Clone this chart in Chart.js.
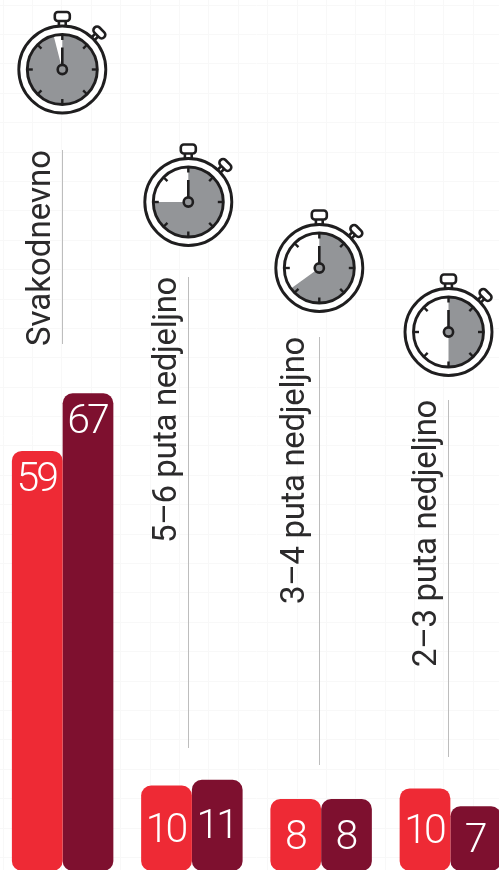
<!DOCTYPE html>
<html><head><meta charset="utf-8">
<style>html,body{margin:0;padding:0;background:#fff;width:499px;height:870px;overflow:hidden}
canvas{position:absolute;left:-2px;top:0}</style>
<script src="https://cdn.jsdelivr.net/npm/chart.js@4"></script></head>
<body><canvas id="c" width="517" height="871"></canvas>
<script>
const categories=["Svakodnevno","5–6 puta nedjeljno","3–4 puta nedjeljno","2–3 puta nedjeljno"];
const redLabels=[59,10,8,10];
const darkLabels=[67,11,8,7];
// bar lengths as drawn in the picture (small bars are not to scale with their labels)
const redBars=[59,12,10.1,11.6];
const darkBars=[67.1,12.8,10.1,9.1];
const dialFilled=[0.96,0.75,0.65,0.5];

const RED="#ee2a35",DARK="#7e102f",INK="#1f1e1f",GREY="#939598";
const dialCenter=[[64.3,69.5],[190.3,202],[321.3,268],[450.5,332]];
const rule=[[64.5,150,344],[190.5,277,748],[321.5,337,765],[450.5,400,757]];
const textPos=[[51.5,346],[178,543],[306,604],[437.5,667]];
const textLength=[196,266,267,267];

function stopwatch(ctx,cx,cy,frac){
  ctx.save();ctx.translate(cx,cy);ctx.strokeStyle=INK;ctx.lineCap="round";ctx.lineJoin="round";
  const a0=-Math.PI/2,R=35;
  ctx.save();ctx.rotate(Math.PI/4);ctx.lineWidth=2.6;
  ctx.beginPath();ctx.moveTo(-2,-44);ctx.lineTo(-2,-49);ctx.moveTo(2,-44);ctx.lineTo(2,-49);ctx.stroke();
  ctx.fillStyle="#fff";ctx.beginPath();ctx.roundRect(-6.8,-56,13.6,7.2,3.4);ctx.fill();ctx.stroke();ctx.restore();
  ctx.lineWidth=2.6;
  ctx.beginPath();ctx.moveTo(-3.4,-44);ctx.lineTo(-3.4,-49);ctx.moveTo(3.4,-44);ctx.lineTo(3.4,-49);ctx.stroke();
  ctx.fillStyle="#fff";ctx.beginPath();ctx.roundRect(-7.5,-57.5,15,9,3);ctx.fill();ctx.stroke();
  ctx.lineWidth=2.9;ctx.beginPath();ctx.arc(0,0,43.5,0,7);ctx.fill();ctx.stroke();
  ctx.fillStyle=GREY;ctx.beginPath();ctx.moveTo(0,0);ctx.arc(0,0,R,a0,a0+frac*2*Math.PI);ctx.closePath();ctx.fill();
  ctx.lineWidth=2.9;ctx.beginPath();ctx.arc(0,0,R,0,7);ctx.stroke();
  ctx.lineWidth=2.4;ctx.lineCap="butt";
  for(let i=0;i<8;i++){const a=i*Math.PI/4;ctx.beginPath();ctx.moveTo(Math.cos(a)*29.5,Math.sin(a)*29.5);ctx.lineTo(Math.cos(a)*R,Math.sin(a)*R);ctx.stroke();}
  ctx.lineWidth=2.6;ctx.beginPath();ctx.moveTo(0,-5);ctx.lineTo(0,-22);ctx.stroke();
  ctx.fillStyle=GREY;ctx.lineWidth=2.6;ctx.beginPath();ctx.arc(0,0,4.6,0,7);ctx.fill();ctx.stroke();
  ctx.restore();
}
const decor={id:"decor",
  beforeDraw(ch){const c=ch.ctx;c.save();c.strokeStyle="#f8f8f8";c.lineWidth=1;
    for(let x=4.5;x<520;x+=29.4){const p=Math.round(x)+.5;c.beginPath();c.moveTo(p,0);c.lineTo(p,871);c.stroke();}
    for(let y=4.5;y<871;y+=29.4){const p=Math.round(y)+.5;c.beginPath();c.moveTo(0,p);c.lineTo(517,p);c.stroke();}
    c.restore();},
  afterDraw(ch){const c=ch.ctx;
    categories.forEach((t,i)=>{
      c.save();c.strokeStyle="#bdbdbd";c.lineWidth=1;c.beginPath();c.moveTo(rule[i][0],rule[i][1]);c.lineTo(rule[i][0],rule[i][2]);c.stroke();c.restore();
      c.save();c.translate(textPos[i][0],textPos[i][1]);c.rotate(-Math.PI/2);c.fillStyle="#2b2a2b";c.font='400 33px Roboto';
      c.letterSpacing="0px";const w=c.measureText(t).width;c.letterSpacing=((textLength[i]-w)/t.length)+"px";
      c.textAlign="left";c.textBaseline="alphabetic";c.fillText(t,0,0);c.restore();
      stopwatch(c,dialCenter[i][0],dialCenter[i][1],dialFilled[i]);
    });
    [redLabels,darkLabels].forEach((labs,d)=>{
      ch.getDatasetMeta(d).data.forEach((b,i)=>{
        const tall=b.base-b.y>200, y=tall?b.y+29:Math.min((b.y+870)/2,b.y+44)+3;
        c.save();c.fillStyle="#fff";c.font='300 41px Roboto';c.letterSpacing="-3px";c.textAlign="center";c.textBaseline="middle";c.fillText(String(labs[i]),b.x-1,y+1);c.restore();
      });
    });
  }};
new Chart(document.getElementById("c"),{type:"bar",
  data:{labels:categories,datasets:[
    {data:redBars,backgroundColor:RED,borderRadius:10,borderSkipped:false,categoryPercentage:.785,barPercentage:1},
    {data:darkBars,backgroundColor:DARK,borderRadius:10,borderSkipped:false,categoryPercentage:.785,barPercentage:1}]},
  options:{responsive:false,animation:false,layout:{padding:0},
    plugins:{legend:{display:false},tooltip:{enabled:false},title:{display:false}},
    scales:{x:{display:false},y:{display:false,min:0,max:122.33}}},
  plugins:[decor]});
</script></body></html>
